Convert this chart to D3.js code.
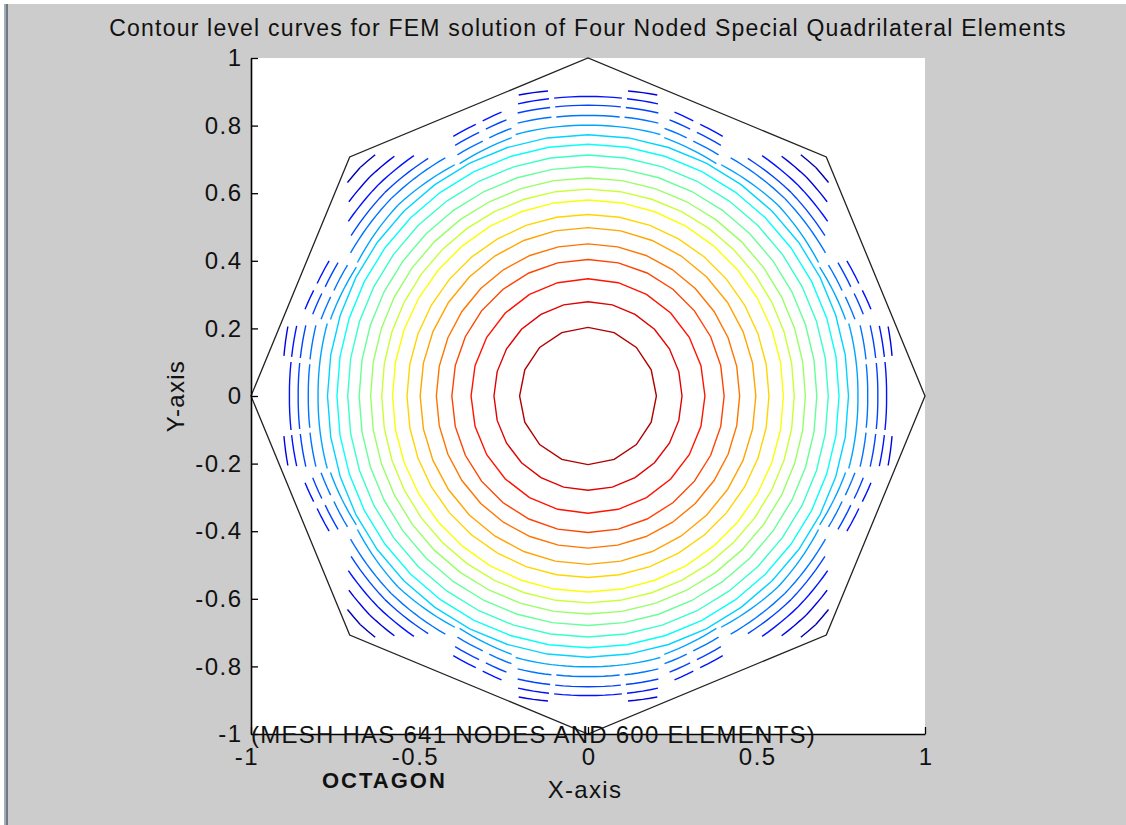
<!DOCTYPE html>
<html>
<head>
<meta charset="utf-8">
<script src="https://cdn.jsdelivr.net/npm/d3@7"></script>
<style>
  html, body { margin: 0; padding: 0; background: #ffffff; }
  svg { display: block; }
  text { font-family: "Liberation Sans", Arial, Helvetica, sans-serif; fill: #111; }
</style>
</head>
<body>
<svg id="chart" width="1126" height="825"></svg>
<script>
// ---- data -------------------------------------------------------------
const titleText = "Contour level curves for FEM solution of Four Noded Special Quadrilateral Elements";
const xTicks = [-1, -0.5, 0, 0.5, 1];
const yTicks = [-1, -0.8, -0.6, -0.4, -0.2, 0, 0.2, 0.4, 0.6, 0.8, 1];

// number of contour levels (colour index runs 1..levelCount, low → high)
const levelCount = 20;

// closed level curves: level index and radius (data units) on the axes
const ringLevels = [7, 8, 9, 10, 11, 12, 13, 14, 15, 16, 17, 18, 19, 20];
const ringRadii  = [0.773, 0.745, 0.713, 0.679, 0.645, 0.612, 0.580, 0.537, 0.498, 0.450, 0.404, 0.347, 0.279, 0.203];
const ringSides  = [40, 40, 40, 40, 40, 40, 36, 36, 32, 32, 28, 24, 24, 16];

// broken outer level curves, given inside one 45° wedge (angle from +x, degrees)
// and repeated by the octagon's mirror symmetry: [level, fromDeg, toDeg, rFrom, rTo]
const outerArcs = [
  [1, 41.5, 45, 0.953, 0.956],
  [2, 7.5, 13, 0.910, 0.914], [2, 39, 45, 0.913, 0.916],
  [3, 0, 6.5, 0.886, 0.887], [3, 7.5, 13.5, 0.887, 0.889], [3, 17, 21, 0.878, 0.872], [3, 22.5, 27.5, 0.870, 0.866], [3, 36, 45, 0.879, 0.882],
  [4, 0, 6.5, 0.860, 0.861], [4, 7.5, 14, 0.861, 0.863], [4, 16.5, 21, 0.852, 0.846], [4, 22.5, 28, 0.844, 0.840], [4, 34, 45, 0.848, 0.852],
  [5, 0, 6.5, 0.830, 0.831], [5, 7.5, 14.5, 0.832, 0.834], [5, 16, 21, 0.824, 0.818], [5, 22.5, 28.5, 0.816, 0.812], [5, 31, 45, 0.822, 0.826],
  [6, 0, 15.5, 0.801, 0.803], [6, 16.5, 29, 0.797, 0.786], [6, 30, 45, 0.790, 0.798]
];

// octagon boundary vertices (angle in degrees, radius)
const boundaryAngles = [0, 45, 90, 135, 180, 225, 270, 315];
const boundaryRadius = 1;

const meshNote = "(MESH HAS 641 NODES AND 600 ELEMENTS)";
const shapeName = "OCTAGON";

// ---- drawing ----------------------------------------------------------
const svg = d3.select("#chart");
const W = 1126, H = 825;

// figure background
svg.append("rect").attr("x", 0).attr("y", 0).attr("width", W).attr("height", H).attr("fill", "#ffffff");
svg.append("rect").attr("x", 8).attr("y", 4).attr("width", W - 8).attr("height", H - 4).attr("fill", "#cccccc");
svg.append("rect").attr("x", 4).attr("y", 4).attr("width", 2).attr("height", H - 4).attr("fill", "#a4adb6");
svg.append("rect").attr("x", 6).attr("y", 4).attr("width", 2).attr("height", H - 4).attr("fill", "#6f7984");

const x = d3.scaleLinear().domain([-1, 1]).range([251, 925]);
const y = d3.scaleLinear().domain([-1, 1]).range([734, 58]);

// plot area
svg.append("rect")
  .attr("x", x(-1)).attr("y", y(1))
  .attr("width", x(1) - x(-1)).attr("height", y(-1) - y(1))
  .attr("fill", "#ffffff");

// jet colour map
function jet(t) {
  const c = v => Math.max(0, Math.min(1, v));
  const r = c(1.5 - Math.abs(4 * t - 3));
  const g = c(1.5 - Math.abs(4 * t - 2));
  const b = c(1.5 - Math.abs(4 * t - 1));
  return d3.rgb(r * 255, g * 255, b * 255).formatHex();
}
const colour = d3.scaleSequential(jet).domain([0, levelCount + 1]);

const toRad = d => d * Math.PI / 180;
const line = d3.line().x(p => x(p[0])).y(p => y(p[1]));
const plot = svg.append("g");

// closed rings
ringRadii.forEach((r, i) => {
  const n = ringSides[i];
  const pts = d3.range(n).map(k => {
    const a = 2 * Math.PI * k / n;
    return [r * Math.cos(a), r * Math.sin(a)];
  });
  plot.append("path")
    .attr("d", line.curve(d3.curveLinearClosed)(pts))
    .attr("fill", "none")
    .attr("stroke", colour(ringLevels[i]))
    .attr("stroke-width", 1.4);
});

// broken outer curves, mirrored into all eight wedges
const mirrors = [
  a => a, a => -a, a => 90 - a, a => 90 + a,
  a => 180 - a, a => 180 + a, a => 270 - a, a => 270 + a
];
const openLine = d3.line().x(p => x(p[0])).y(p => y(p[1])).curve(d3.curveLinear);
outerArcs.forEach(([lev, a0, a1, r0, r1]) => {
  const steps = Math.max(2, Math.round((a1 - a0) / 1.5));
  const base = d3.range(steps + 1).map(k => {
    const f = k / steps;
    return [a0 + (a1 - a0) * f, r0 + (r1 - r0) * f];
  });
  mirrors.forEach(m => {
    const pts = base.map(([a, r]) => {
      const t = toRad(m(a));
      return [r * Math.cos(t), r * Math.sin(t)];
    });
    plot.append("path")
      .attr("d", openLine(pts))
      .attr("fill", "none")
      .attr("stroke", colour(lev))
      .attr("stroke-width", 1.4);
  });
});

// octagon boundary
const octPts = boundaryAngles.map(a => [boundaryRadius * Math.cos(toRad(a)), boundaryRadius * Math.sin(toRad(a))]);
plot.append("path")
  .attr("d", d3.line().x(p => x(p[0])).y(p => y(p[1])).curve(d3.curveLinearClosed)(octPts))
  .attr("fill", "none")
  .attr("stroke", "#222")
  .attr("stroke-width", 1.3);

// axes
const fmt = d => String(+d.toFixed(1));
const yAxis = svg.append("g")
  .attr("transform", `translate(${x(-1)},0)`)
  .call(d3.axisLeft(y).tickValues(yTicks).tickFormat(fmt).tickSizeInner(-7).tickSizeOuter(0).tickPadding(8.5));
const xAxis = svg.append("g")
  .attr("transform", `translate(0,${y(-1)})`)
  .call(d3.axisBottom(x).tickValues(xTicks).tickFormat(fmt).tickSizeInner(-7).tickSizeOuter(0).tickPadding(14));
[yAxis, xAxis].forEach(g => {
  g.selectAll("text").attr("font-size", 24).attr("font-family", null)
    .attr("letter-spacing", 1.5).style("fill", "#111");
  g.selectAll("line").attr("stroke", "#000").attr("stroke-width", 1.3);
  g.select(".domain").attr("stroke", "#000").attr("stroke-width", 1.6);
});
// x labels: digits centred under the tick, minus sign hanging to the left
xAxis.selectAll("text").attr("dx", d => d < 0 ? -4.5 : 0.75);

// titles and notes
svg.append("text").attr("x", 588).attr("y", 36).attr("text-anchor", "middle")
  .attr("font-size", 23).attr("letter-spacing", 1.2).text(titleText);
svg.append("text").attr("x", 585).attr("y", 798).attr("text-anchor", "middle")
  .attr("font-size", 24).attr("letter-spacing", 1.3).text("X-axis");
svg.append("text").attr("transform", "translate(184,396) rotate(-90)").attr("text-anchor", "middle")
  .attr("font-size", 24).attr("letter-spacing", 1.3).text("Y-axis");
svg.append("text").attr("x", x(-1)).attr("y", 743)
  .attr("font-size", 24).attr("letter-spacing", 1.25).text(meshNote);
svg.append("text").attr("x", 322).attr("y", 788)
  .attr("font-size", 22).attr("font-weight", "bold").attr("letter-spacing", 2).text(shapeName);
</script>
</body>
</html>
